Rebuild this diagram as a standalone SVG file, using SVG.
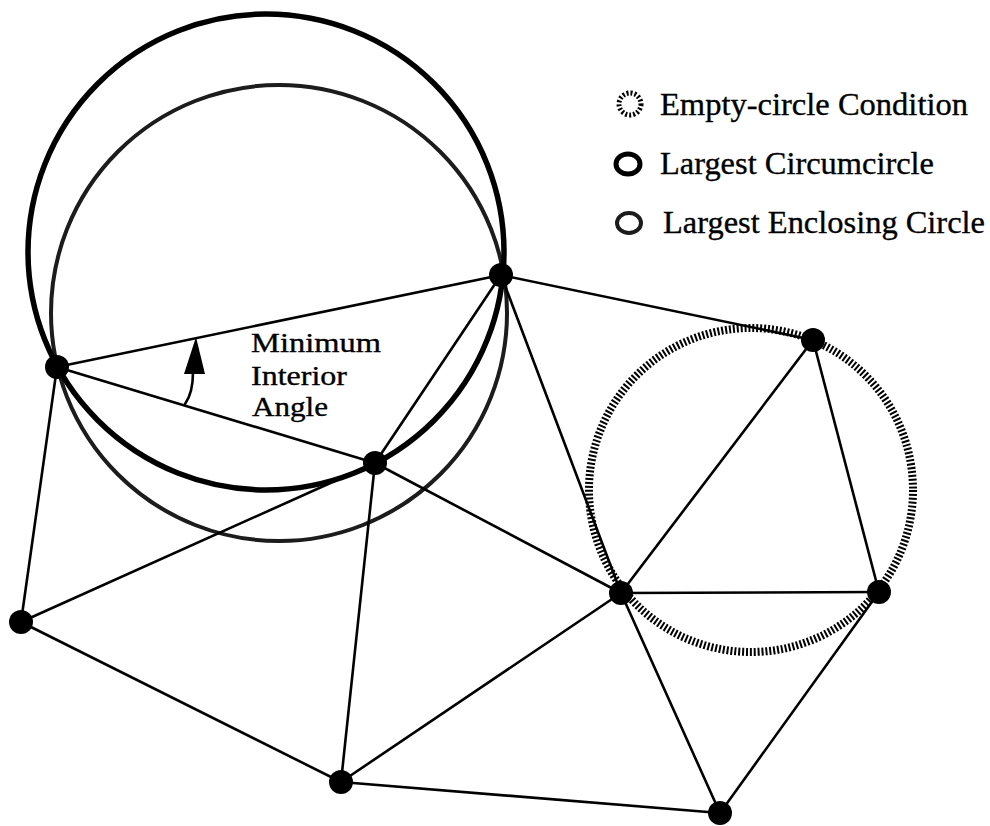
<svg xmlns="http://www.w3.org/2000/svg" width="990" height="826" viewBox="0 0 990 826">
<style>
  .edge { stroke: #000; stroke-width: 2.6; fill: none; stroke-linecap: round; }
  .node { fill: #000; }
  .bold { fill: none; stroke: #000; stroke-width: 5.5; }
  .gray { fill: none; stroke: #1c1c1c; stroke-width: 4; }
  .hatch { fill: none; stroke: #000; stroke-width: 8; stroke-dasharray: 2 1.9; }
  .lbl { font-family: "Liberation Serif", "Times New Roman", serif; font-size: 32px; fill: #000; stroke: #000; stroke-width: 0.35; }
  .sm { font-size: 28px; }
</style>
<rect width="990" height="826" fill="#fff"/>
<g id="circles">
  <circle class="gray" cx="279" cy="313" r="228"/>
  <circle class="bold" cx="266" cy="252" r="238"/>
  <circle class="hatch" cx="751" cy="490" r="162"/>
</g>
<g id="connectors">
  <line class="edge" x1="57" y1="367" x2="501" y2="275"/>
  <line class="edge" x1="57" y1="367" x2="375" y2="463"/>
  <line class="edge" x1="57" y1="367" x2="21" y2="622"/>
  <line class="edge" x1="501" y1="275" x2="375" y2="463"/>
  <line class="edge" x1="501" y1="275" x2="813" y2="340"/>
  <line class="edge" x1="501" y1="275" x2="621" y2="593"/>
  <line class="edge" x1="21" y1="622" x2="375" y2="463"/>
  <line class="edge" x1="375" y1="463" x2="341" y2="782"/>
  <line class="edge" x1="375" y1="463" x2="621" y2="593"/>
  <line class="edge" x1="21" y1="622" x2="341" y2="782"/>
  <line class="edge" x1="341" y1="782" x2="621" y2="593"/>
  <line class="edge" x1="341" y1="782" x2="720" y2="813"/>
  <line class="edge" x1="621" y1="593" x2="813" y2="340"/>
  <line class="edge" x1="621" y1="593" x2="879" y2="592"/>
  <line class="edge" x1="621" y1="593" x2="720" y2="813"/>
  <line class="edge" x1="813" y1="340" x2="879" y2="592"/>
  <line class="edge" x1="879" y1="592" x2="720" y2="813"/>
</g>
<g id="angle-arrow">
  <path class="edge" d="M185,404 Q193,393 193,372"/>
  <polygon class="node" points="184,374 205,374 196,337"/>
</g>
<g id="nodes">
  <circle id="nA" class="node" cx="57" cy="367" r="12"/>
  <circle id="nB" class="node" cx="501" cy="275" r="12"/>
  <circle id="nC" class="node" cx="375" cy="463" r="12"/>
  <circle id="nD" class="node" cx="813" cy="340" r="12"/>
  <circle id="nE" class="node" cx="621" cy="593" r="12"/>
  <circle id="nF" class="node" cx="879" cy="592" r="12"/>
  <circle id="nG" class="node" cx="21" cy="622" r="12"/>
  <circle id="nH" class="node" cx="341" cy="782" r="12"/>
  <circle id="nI" class="node" cx="720" cy="813" r="12"/>
</g>
<g id="angle-label">
  <text class="lbl sm" x="251" y="352" textLength="130" lengthAdjust="spacingAndGlyphs">Minimum</text>
  <text class="lbl sm" x="251" y="385" textLength="96" lengthAdjust="spacingAndGlyphs">Interior</text>
  <text class="lbl sm" x="252" y="416" textLength="76" lengthAdjust="spacingAndGlyphs">Angle</text>
</g>
<g id="legend">
  <ellipse cx="630" cy="104" rx="11" ry="11" fill="none" stroke="#000" stroke-width="5" stroke-dasharray="2 2"/>
  <text class="lbl" x="660" y="115" textLength="308" lengthAdjust="spacingAndGlyphs">Empty-circle Condition</text>
  <ellipse cx="628" cy="164" rx="12" ry="10" fill="none" stroke="#000" stroke-width="5"/>
  <text class="lbl" x="660" y="174" textLength="274" lengthAdjust="spacingAndGlyphs">Largest Circumcircle</text>
  <ellipse cx="629" cy="223" rx="12" ry="10" fill="none" stroke="#1c1c1c" stroke-width="4"/>
  <text class="lbl" x="663" y="233" textLength="322" lengthAdjust="spacingAndGlyphs">Largest Enclosing Circle</text>
</g>
</svg>
